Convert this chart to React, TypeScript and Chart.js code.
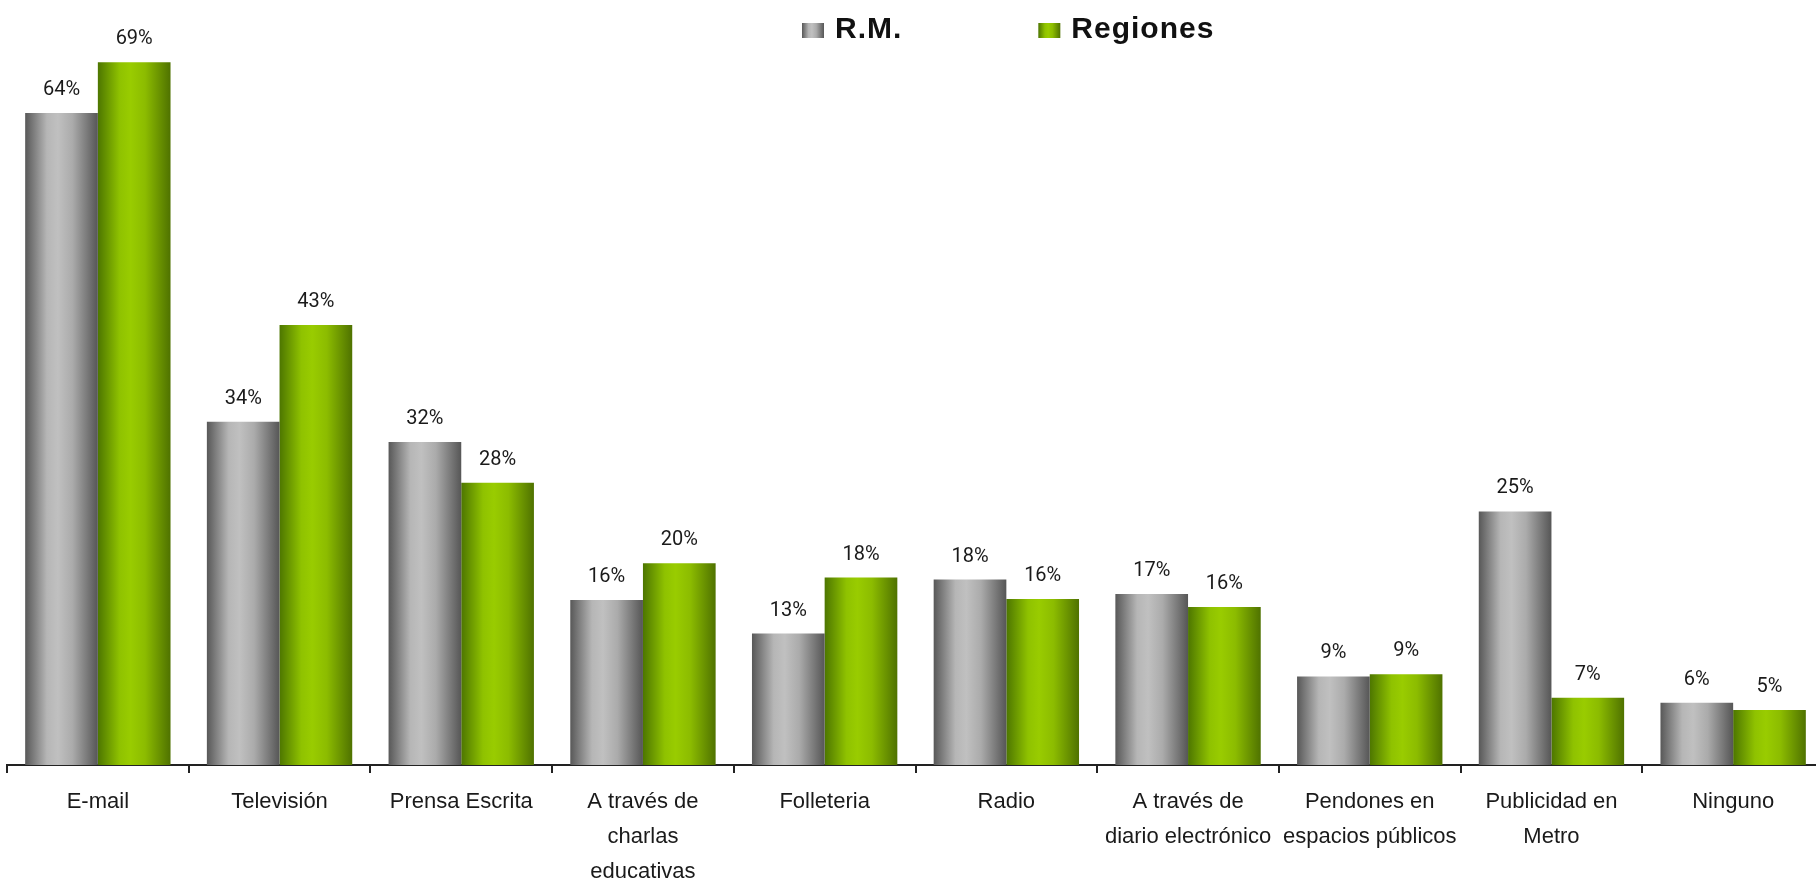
import React, { useEffect, useRef } from 'react';
import { Chart, registerables } from 'chart.js';

Chart.register(...registerables);

// ---------- data ----------
const categories: (string | string[])[] = [
  'E-mail',
  'Televisión',
  'Prensa Escrita',
  ['A través de', 'charlas', 'educativas'],
  'Folleteria',
  'Radio',
  ['A través de', 'diario electrónico'],
  ['Pendones en', 'espacios públicos'],
  ['Publicidad en', 'Metro'],
  'Ninguno',
];
const seriesNames = ['R.M.', 'Regiones'];
const rmValues = [64.0, 33.7, 31.7, 16.2, 12.9, 18.2, 16.8, 8.7, 24.9, 6.1];
const regionesValues = [69.0, 43.2, 27.7, 19.8, 18.4, 16.3, 15.5, 8.9, 6.6, 5.4];
const yMin = 0;
const yMax = 70;

// ---------- styles ----------
const CANVAS_W = 1830;
const CANVAS_H = 878;
const grayStops: [number, string][] = [
  [0, '#585858'],
  [0.3, '#b6b6b6'],
  [0.45, '#c0c0c0'],
  [0.65, '#ababab'],
  [1, '#565656'],
];
const greenStops: [number, string][] = [
  [0, '#4d7600'],
  [0.3, '#8fc200'],
  [0.45, '#99cc00'],
  [0.65, '#8cbc00'],
  [1, '#4f7200'],
];
const LEGEND_X = 802;
const LEGEND_GAP = 136;

function makeGradient(ctx: CanvasRenderingContext2D, x0: number, x1: number, stops: [number, string][]) {
  const g = ctx.createLinearGradient(x0, 0, x1, 0);
  stops.forEach(([o, c]) => g.addColorStop(o, c));
  return g;
}

function barBackground(stops: [number, string][]) {
  return (context: any) => {
    const chart = context.chart;
    const xScale = chart.scales && chart.scales.x;
    if (!xScale || context.dataIndex === undefined) return stops[2][1];
    const n = chart.data.labels.length;
    const cat = xScale.width / n;
    const center = xScale.getPixelForValue(context.dataIndex);
    const nDs = chart.data.datasets.length;
    const barW = (cat * 0.8) / nDs;
    const left = center - cat * 0.4 + context.datasetIndex * barW;
    if (!Number.isFinite(left) || !Number.isFinite(barW) || barW <= 0) return stops[2][1];
    return makeGradient(chart.ctx, left, left + barW, stops);
  };
}

const valueLabels = {
  id: 'valueLabels',
  afterDatasetsDraw(chart: any) {
    const ctx = chart.ctx as CanvasRenderingContext2D;
    ctx.save();
    ctx.font = '20px Roboto';
    ctx.fillStyle = '#1a1a1a';
    ctx.textAlign = 'center';
    ctx.textBaseline = 'alphabetic';
    chart.data.datasets.forEach((ds: any, di: number) => {
      chart.getDatasetMeta(di).data.forEach((bar: any, i: number) => {
        const v = ds.data[i];
        ctx.fillText(Math.round(v) + '%', bar.x, bar.y - 18);
      });
    });
    ctx.restore();
  },
};

const gradLegend = {
  id: 'gradLegend',
  afterDraw(chart: any) {
    const ctx = chart.ctx as CanvasRenderingContext2D;
    ctx.save();
    ctx.font = 'bold 30px "Liberation Sans"';
    (ctx as any).letterSpacing = '1px';
    ctx.textBaseline = 'alphabetic';
    ctx.textAlign = 'left';
    let x = LEGEND_X;
    chart.data.datasets.forEach((ds: any, i: number) => {
      const stops = i === 0 ? grayStops : greenStops;
      ctx.fillStyle = makeGradient(ctx, x, x + 22, stops);
      ctx.fillRect(x, 23, 22, 15);
      ctx.fillStyle = '#111111';
      ctx.fillText(ds.label, x + 33, 38);
      x += 33 + ctx.measureText(ds.label).width + LEGEND_GAP;
    });
    ctx.restore();
  },
};

export default function App() {
  const ref = useRef<HTMLCanvasElement | null>(null);

  useEffect(() => {
    if (!ref.current) return;
    const chart = new Chart(ref.current, {
      type: 'bar',
      data: {
        labels: categories as any,
        datasets: [
          {
            label: seriesNames[0],
            data: rmValues,
            backgroundColor: barBackground(grayStops) as any,
            borderWidth: 0,
            barPercentage: 1,
            categoryPercentage: 0.8,
          },
          {
            label: seriesNames[1],
            data: regionesValues,
            backgroundColor: barBackground(greenStops) as any,
            borderWidth: 0,
            barPercentage: 1,
            categoryPercentage: 0.8,
          },
        ],
      },
      options: {
        responsive: false,
        maintainAspectRatio: false,
        animation: false,
        events: [],
        layout: { padding: { top: 52, left: 7, right: 6, bottom: 0 } },
        plugins: {
          legend: { display: false },
          tooltip: { enabled: false },
          title: { display: false },
        },
        scales: {
          x: {
            grid: {
              offset: true,
              drawOnChartArea: false,
              drawTicks: true,
              tickLength: 8,
              color: '#222222',
              lineWidth: 2,
            },
            border: { display: true, color: '#222222', width: 2 },
            ticks: {
              font: { family: '"Liberation Sans"', size: 22, lineHeight: 1.6 },
              color: '#1a1a1a',
              padding: 11,
              maxRotation: 0,
              minRotation: 0,
              autoSkip: false,
            },
            afterFit: (scale: any) => {
              scale.height = 113;
            },
          },
          y: {
            display: false,
            min: yMin,
            max: yMax,
          },
        },
      },
      plugins: [valueLabels, gradLegend],
    });
    return () => chart.destroy();
  }, []);

  return (
    <div
      style={{
        position: 'fixed',
        left: 0,
        top: 0,
        width: 1816,
        height: 878,
        overflow: 'hidden',
        background: '#ffffff',
      }}
    >
      <canvas
        ref={ref}
        width={CANVAS_W}
        height={CANVAS_H}
        style={{ display: 'block', width: CANVAS_W, height: CANVAS_H }}
      />
    </div>
  );
}
